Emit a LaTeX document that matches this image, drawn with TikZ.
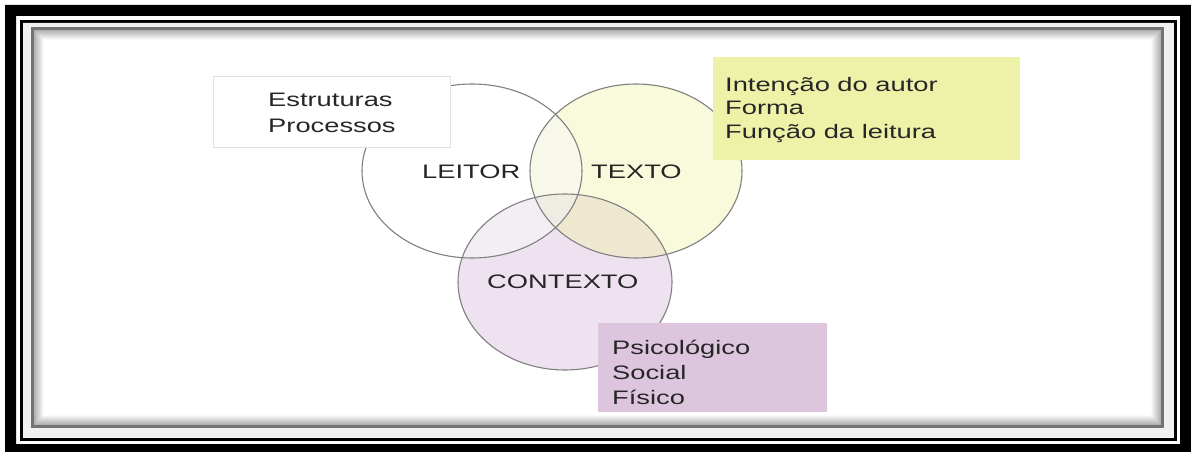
\documentclass[tikz,border=0pt]{standalone}
\usepackage{fontspec}
\newfontfamily\arialx[FakeStretch=1.4]{Liberation Sans}
\definecolor{txtfill}{HTML}{F9FADC}
\definecolor{ctxfill}{HTML}{EEE2F0}
\definecolor{tcfill}{HTML}{EDE8CF}
\definecolor{ltfill}{HTML}{F7F7EA}
\definecolor{lcfill}{HTML}{F2EEF4}
\definecolor{ltcfill}{HTML}{EFECE4}
\definecolor{yelbox}{HTML}{EEF2A8}
\definecolor{purbox}{HTML}{DCC5DD}
\definecolor{txtcol}{HTML}{262626}
\tikzset{
  lbl/.style={anchor=base west, inner sep=0pt, font=\arialx\fontsize{19.5}{24}\selectfont, text=txtcol},
  ring/.style={draw=black!50, line width=1.1pt},
  boxw/.style={draw=black!12, line width=0.8pt, fill=white},
}
\begin{document}
\begin{tikzpicture}[x=1pt,y=-1pt]
\useasboundingbox (0,0) rectangle (1191,452);
\fill[white] (0,0) rectangle (1191,452);
% frame
\fill[black, even odd rule] (5,5) rectangle (1191,452) (16,16) rectangle (1180,444);
\draw[line width=3pt] (21.5,21.5) rectangle (1175,439);
\fill[black!6, even odd rule] (23,23) rectangle (1173.5,437.5) (31,27) rectangle (1164,428);
\draw[line width=3pt, black!55] (32.5,28.5) rectangle (1162.5,426.5);
\foreach \i in {1,...,10}{
  \pgfmathsetmacro{\c}{34-3.2*\i}
  \draw[black!\c, line width=1pt] (33.5+\i,30+\i) rectangle (1161.5-\i,425-\i);
}
% fills
\fill[txtfill] (636,171) ellipse [x radius=106pt, y radius=87pt];
\fill[ctxfill] (565,282) ellipse [x radius=107pt, y radius=88pt];
\begin{scope}
  \clip (636,171) ellipse [x radius=106pt, y radius=87pt];
  \fill[tcfill] (565,282) ellipse [x radius=107pt, y radius=88pt];
\end{scope}
\begin{scope}
  \clip (472,171) ellipse [x radius=110pt, y radius=87pt];
  \fill[ltfill] (636,171) ellipse [x radius=106pt, y radius=87pt];
  \fill[lcfill] (565,282) ellipse [x radius=107pt, y radius=88pt];
  \clip (636,171) ellipse [x radius=106pt, y radius=87pt];
  \fill[ltcfill] (565,282) ellipse [x radius=107pt, y radius=88pt];
\end{scope}
% outlines
\draw[ring] (472,171) ellipse [x radius=110pt, y radius=87pt];
\draw[ring] (636,171) ellipse [x radius=106pt, y radius=87pt];
\draw[ring] (565,282) ellipse [x radius=107pt, y radius=88pt];
% labels in circles
\node[lbl] (leitor) at (422,178) {LEITOR};
\node[lbl] (texto) at (591,178) {TEXTO};
\node[lbl] (contexto) at (487,288) {CONTEXTO};
% boxes
\path[boxw] (213,76) rectangle (450,147);
\node[lbl] (estr) at (268,106) {Estruturas};
\node[lbl] (proc) at (268,132) {Processos};
\fill[yelbox] (713,57) rectangle (1020,160);
\node[lbl] (inten) at (725,91) {Intenção do autor};
\node[lbl] (forma) at (725,114.5) {Forma};
\node[lbl] (funcao) at (725,138) {Função da leitura};
\fill[purbox] (598,323) rectangle (827,412);
\node[lbl] (psico) at (612,354) {Psicológico};
\node[lbl] (social) at (612,379) {Social};
\node[lbl] (fisico) at (612,404) {Físico};
\end{tikzpicture}
\end{document}
